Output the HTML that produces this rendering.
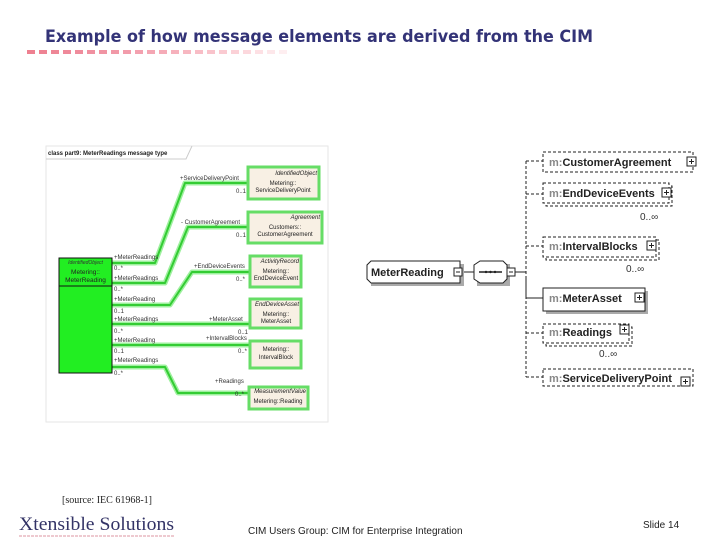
<!DOCTYPE html>
<html><head><meta charset="utf-8"><style>
html,body{margin:0;padding:0;background:#fff;}
svg{display:block;}
</style></head><body>
<svg width="720" height="540" viewBox="0 0 720 540" xmlns="http://www.w3.org/2000/svg" font-family="Liberation Sans, sans-serif">
<text x="45" y="42" font-size="17" font-weight="bold" fill="#333377" font-family="DejaVu Sans Condensed, DejaVu Sans, sans-serif" textLength="548" lengthAdjust="spacingAndGlyphs">Example of how message elements are derived from the CIM</text>
<g>
<rect x="27" y="50" width="8" height="4" fill="#ee8090"/>
<rect x="39" y="50" width="8" height="4" fill="#ee8393"/>
<rect x="51" y="50" width="8" height="4" fill="#ee8696"/>
<rect x="63" y="50" width="8" height="4" fill="#ef899a"/>
<rect x="75" y="50" width="8" height="4" fill="#ef8c9c"/>
<rect x="87" y="50" width="8" height="4" fill="#f090a0"/>
<rect x="99" y="50" width="8" height="4" fill="#f094a3"/>
<rect x="111" y="50" width="8" height="4" fill="#f198a7"/>
<rect x="123" y="50" width="8" height="4" fill="#f29cab"/>
<rect x="135" y="50" width="8" height="4" fill="#f3a1af"/>
<rect x="147" y="50" width="8" height="4" fill="#f4a6b3"/>
<rect x="159" y="50" width="8" height="4" fill="#f5abb7"/>
<rect x="171" y="50" width="8" height="4" fill="#f6b1bc"/>
<rect x="183" y="50" width="8" height="4" fill="#f7b7c1"/>
<rect x="195" y="50" width="8" height="4" fill="#f8bdc6"/>
<rect x="207" y="50" width="8" height="4" fill="#f9c3cb"/>
<rect x="219" y="50" width="8" height="4" fill="#facad1"/>
<rect x="231" y="50" width="8" height="4" fill="#fbd1d7"/>
<rect x="243" y="50" width="8" height="4" fill="#fcd8dd"/>
<rect x="255" y="50" width="8" height="4" fill="#fde0e4"/>
<rect x="267" y="50" width="8" height="4" fill="#fde7ea"/>
<rect x="279" y="50" width="8" height="4" fill="#feeef0"/>
</g>

<!-- UML frame -->
<rect x="46" y="146" width="282" height="276" fill="none" stroke="#e6e6e6"/>
<path d="M46 159 H186 L192 146" fill="none" stroke="#cccccc"/>
<text x="48" y="155" font-size="6" font-weight="bold" fill="#222">class part9: MeterReadings message type</text>

<!-- connectors -->
<g fill="none" stroke="#9ef09e" stroke-width="5" stroke-linejoin="round">
<path d="M112 263 H155 L185 183 H248"/>
<path d="M112 283 H165 L188 227 H248"/>
<path d="M112 305 H170 L192 272 H250"/>
<path d="M112 324 H250"/>
<path d="M112 345 H250"/>
<path d="M112 367 H165 L178 393 H249"/>
</g>
<g fill="none" stroke="#33cc33" stroke-width="2" stroke-linejoin="round">
<path d="M112 263 H155 L185 183 H248"/>
<path d="M112 283 H165 L188 227 H248"/>
<path d="M112 305 H170 L192 272 H250"/>
<path d="M112 324 H250"/>
<path d="M112 345 H250"/>
<path d="M112 367 H165 L178 393 H249"/>
</g>

<!-- left green box -->
<rect x="59" y="258" width="53" height="115" fill="#22ee22" stroke="#111" stroke-width="1"/>
<line x1="59" y1="286" x2="112" y2="286" stroke="#111"/>
<text x="85.5" y="264" font-size="5" font-style="italic" text-anchor="middle" fill="#333">IdentifiedObject</text>
<text x="85.5" y="274" font-size="6.5" text-anchor="middle" fill="#222">Metering::</text>
<text x="85.5" y="282" font-size="6.5" text-anchor="middle" fill="#222">MeterReading</text>

<!-- right uml boxes -->
<g stroke="#66dd66" stroke-width="3" fill="#f8f0e4">
<rect x="248" y="167" width="71" height="32"/>
<rect x="248" y="212" width="74" height="31"/>
<rect x="250" y="256" width="51" height="31"/>
<rect x="250" y="299" width="51" height="29"/>
<rect x="250" y="341" width="51" height="27"/>
<rect x="249" y="387" width="59" height="22"/>
</g>
<g font-size="6" fill="#222" text-anchor="middle">
<text x="317" y="175" font-style="italic" text-anchor="end">IdentifiedObject</text>
<text x="283" y="185">Metering::</text>
<text x="283" y="192">ServiceDeliveryPoint</text>
<text x="320" y="219" font-style="italic" text-anchor="end">Agreement</text>
<text x="285" y="229">Customers::</text>
<text x="285" y="236">CustomerAgreement</text>
<text x="299" y="263" font-style="italic" text-anchor="end">ActivityRecord</text>
<text x="276" y="273">Metering::</text>
<text x="276" y="280">EndDeviceEvent</text>
<text x="299" y="306" font-style="italic" text-anchor="end">EndDeviceAsset</text>
<text x="276" y="316">Metering::</text>
<text x="276" y="323">MeterAsset</text>
<text x="276" y="351">Metering::</text>
<text x="276" y="359">IntervalBlock</text>
<text x="306" y="393" font-style="italic" text-anchor="end">MeasurementValue</text>
<text x="278" y="403">Metering::Reading</text>
</g>
<g font-size="6" fill="#333">
<text x="180" y="180">+ServiceDeliveryPoint</text>
<text x="236" y="193">0..1</text>
<text x="181" y="224">- CustomerAgreement</text>
<text x="236" y="237">0..1</text>
<text x="114" y="259">+MeterReadings</text>
<text x="114" y="270">0..*</text>
<text x="114" y="280">+MeterReadings</text>
<text x="114" y="291">0..*</text>
<text x="114" y="301">+MeterReading</text>
<text x="114" y="313">0..1</text>
<text x="114" y="321">+MeterReadings</text>
<text x="114" y="333">0..*</text>
<text x="114" y="342">+MeterReading</text>
<text x="114" y="353">0..1</text>
<text x="114" y="362">+MeterReadings</text>
<text x="114" y="375">0..*</text>
<text x="194" y="268">+EndDeviceEvents</text>
<text x="236" y="281">0..*</text>
<text x="209" y="321">+MeterAsset</text>
<text x="238" y="334">0..1</text>
<text x="206" y="340">+IntervalBlocks</text>
<text x="238" y="353">0..*</text>
<text x="215" y="383">+Readings</text>
<text x="235" y="396">0..*</text>
</g>

<!-- XSD diagram -->
<g fill="none" stroke="#222" stroke-width="1">
<line x1="526" y1="161" x2="526" y2="377" stroke-dasharray="3,2"/>
<line x1="526" y1="277" x2="526" y2="298"/>
<line x1="514" y1="272" x2="526" y2="272"/>
<line x1="460" y1="272" x2="474" y2="272"/>
<g stroke-dasharray="3,2">
<line x1="526" y1="161" x2="543" y2="161"/>
<line x1="526" y1="194" x2="543" y2="194"/>
<line x1="526" y1="246" x2="543" y2="246"/>
<line x1="526" y1="333" x2="543" y2="333"/>
<line x1="526" y1="377" x2="543" y2="377"/>
</g>
<line x1="526" y1="298" x2="543" y2="298"/>
</g>
<!-- MeterReading -->
<path d="M371 264 h93 v22 h-93 z" fill="#aaa"/>
<path d="M371 261 H460 V283 H371 L367 279 V265 Z" fill="#fff" stroke="#222"/>
<text x="371" y="276" font-size="11" font-weight="bold" fill="#222">MeterReading</text>
<rect x="454" y="268" width="8" height="8" fill="#fff" stroke="#222"/>
<line x1="456" y1="272" x2="460" y2="272" stroke="#222"/>
<!-- sequence -->
<path d="M477 264 h33 v22 h-33 z" fill="#aaa"/>
<path d="M480 261 H503 L507 265 V279 L503 283 H480 L474 279 V265 Z" fill="#fff" stroke="#222"/>
<line x1="479" y1="272" x2="502" y2="272" stroke="#222" stroke-width="1.5"/>
<circle cx="486" cy="272" r="1.2" fill="#222"/><circle cx="490.5" cy="272" r="1.2" fill="#222"/><circle cx="495" cy="272" r="1.2" fill="#222"/>
<rect x="507" y="268" width="8" height="8" fill="#fff" stroke="#222"/>
<line x1="509" y1="272" x2="513" y2="272" stroke="#222"/>

<g font-size="11" font-weight="bold">
<!-- CustomerAgreement -->
<rect x="543" y="152" width="150" height="20" fill="#fff" stroke="#222" stroke-dasharray="3,2"/>
<text x="549" y="166"><tspan fill="#888">m:</tspan><tspan fill="#222">CustomerAgreement</tspan></text>
<!-- EndDeviceEvents -->
<rect x="546" y="186" width="126" height="20" fill="#fff" stroke="#222" stroke-dasharray="3,2"/>
<rect x="543" y="183" width="126" height="20" fill="#fff" stroke="#222" stroke-dasharray="3,2"/>
<text x="549" y="197"><tspan fill="#888">m:</tspan><tspan fill="#222">EndDeviceEvents</tspan></text>
<!-- IntervalBlocks -->
<rect x="546" y="240" width="113" height="20" fill="#fff" stroke="#222" stroke-dasharray="3,2"/>
<rect x="543" y="237" width="113" height="20" fill="#fff" stroke="#222" stroke-dasharray="3,2"/>
<text x="549" y="250"><tspan fill="#888">m:</tspan><tspan fill="#222">IntervalBlocks</tspan></text>
<!-- MeterAsset -->
<rect x="546" y="291" width="102" height="23" fill="#aaa"/>
<rect x="543" y="288" width="102" height="23" fill="#fff" stroke="#222"/>
<text x="549" y="302"><tspan fill="#888">m:</tspan><tspan fill="#222">MeterAsset</tspan></text>
<!-- Readings -->
<rect x="546" y="327" width="86" height="19" fill="#fff" stroke="#222" stroke-dasharray="3,2"/>
<rect x="543" y="324" width="86" height="19" fill="#fff" stroke="#222" stroke-dasharray="3,2"/>
<text x="549" y="336"><tspan fill="#888">m:</tspan><tspan fill="#222">Readings</tspan></text>
<!-- ServiceDeliveryPoint -->
<rect x="543" y="369" width="150" height="17" fill="#fff" stroke="#222" stroke-dasharray="3,2"/>
<text x="549" y="382"><tspan fill="#888">m:</tspan><tspan fill="#222">ServiceDeliveryPoint</tspan></text>
</g>
<g fill="#fff" stroke="#222">
<rect x="687" y="157" width="9" height="9"/><path d="M689 161.5h5M691.5 159v5"/>
<rect x="662" y="188" width="9" height="9"/><path d="M664 192.5h5M666.5 190v5"/>
<rect x="647" y="241" width="9" height="9"/><path d="M649 245.5h5M651.5 243v5"/>
<rect x="635" y="293" width="9" height="9"/><path d="M637 297.5h5M639.5 295v5"/>
<rect x="620" y="325" width="9" height="9"/><path d="M622 329.5h5M624.5 327v5"/>
<rect x="681" y="377" width="9" height="9"/><path d="M683 381.5h5M685.5 379v5"/>
</g>
<g font-size="10" fill="#333">
<text x="640" y="220">0..∞</text>
<text x="626" y="272">0..∞</text>
<text x="599" y="357">0..∞</text>
</g>

<!-- footer -->
<text x="62" y="503" font-size="10" fill="#222" font-family="Liberation Serif, serif">[source: IEC 61968-1]</text>
<text x="19" y="530" font-size="19" fill="#333366" font-family="Liberation Serif, serif" textLength="155" lengthAdjust="spacingAndGlyphs">Xtensible Solutions</text>
<line x1="19" y1="536" x2="174" y2="536" stroke="#e8b8c0" stroke-width="1.5" stroke-dasharray="3,1"/>
<text x="248" y="534" font-size="10" fill="#222">CIM Users Group: CIM for Enterprise Integration</text>
<text x="643" y="528" font-size="10" fill="#222">Slide 14</text>
</svg>
</body></html>
